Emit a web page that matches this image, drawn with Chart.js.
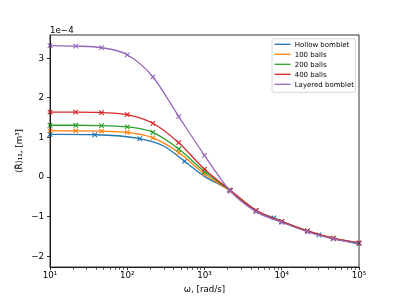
<!DOCTYPE html>
<html>
<head>
<meta charset="utf-8">
<script src="https://cdn.jsdelivr.net/npm/chart.js@4/dist/chart.umd.min.js"></script>
<style>
  html, body { margin: 0; padding: 0; background: #fff; }
  canvas { display: block; }
</style>
</head>
<body>
<canvas id="chart" width="399" height="299"></canvas>
<script>
// omega samples (rad/s), values in units of 1e-4 m^3
var omega = [10, 21.5, 46.4, 100, 215, 464, 1000, 2154, 4642, 10000, 21544, 46416, 100000];
var layered = [3.32, 3.31, 3.27, 3.09, 2.53, 1.53, 0.55, -0.35, -0.87, -1.14, -1.38, -1.56, -1.68];
var balls400 = [1.64, 1.64, 1.63, 1.58, 1.36, 0.87, 0.20, -0.33, -0.84, -1.12, -1.36, -1.54, -1.66];
var balls200 = [1.31, 1.31, 1.30, 1.27, 1.13, 0.71, 0.14, -0.34, -0.84, -1.12, -1.36, -1.55, -1.67];
var balls100 = [1.17, 1.17, 1.16, 1.13, 0.99, 0.62, 0.08, -0.35, -0.85, -1.13, -1.37, -1.55, -1.67];
var omegaHollow = [10, 38, 145, 300, 550, 1000, 2090, 4642, 7940, 15000, 30200, 100000];
var hollow = [1.08, 1.07, 0.97, 0.78, 0.40, 0.02, -0.33, -0.86, -1.03, -1.26, -1.46, -1.69];
var hollowMarked = [1, 1, 1, 0, 1, 0, 1, 0, 1, 0, 1, 0];

var xTicks = [10, 20, 30, 40, 50, 60, 70, 80, 90, 100, 200, 300, 400, 500, 600, 700, 800, 900,
  1000, 2000, 3000, 4000, 5000, 6000, 7000, 8000, 9000, 10000, 20000, 30000, 40000, 50000,
  60000, 70000, 80000, 90000, 100000];
var xLabels = { 10: "10¹", 100: "10²", 1000: "10³", 10000: "10⁴", 100000: "10⁵" };
var yTicks = [-2, -1, 0, 1, 2, 3];

var FONT = "'DejaVu Sans', sans-serif";
Chart.defaults.font.family = FONT;
Chart.defaults.color = "#000";
Chart.defaults.animation = false;

function pts(xs, ys) {
  return xs.map(function (x, i) { return { x: x, y: ys[i] }; });
}

var series = [
  { label: "Hollow bomblet", color: "#1f77b4", data: pts(omegaHollow, hollow), marked: hollowMarked },
  { label: "100 balls", color: "#ff7f0e", data: pts(omega, balls100) },
  { label: "200 balls", color: "#2ca02c", data: pts(omega, balls200) },
  { label: "400 balls", color: "#d62728", data: pts(omega, balls400) },
  { label: "Layered bomblet", color: "#9467bd", data: pts(omega, layered) },
];

var datasets = series.map(function (s, i) {
  var radii = s.data.map(function (p, j) {
    return (s.marked && !s.marked[j]) ? 0 : 3.2;
  });
  return {
    label: s.label,
    data: s.data,
    borderColor: s.color,
    backgroundColor: s.color,
    borderWidth: 1.3,
    pointStyle: "crossRot",
    pointRadius: radii,
    pointBorderWidth: 1.1,
    pointBorderColor: s.color,
    cubicInterpolationMode: "monotone",
    fill: false,
    clip: false,
    order: series.length - i,
  };
});

var decor = {
  id: "decor",
  afterDraw: function (chart) {
    var ctx = chart.ctx;
    var a = chart.chartArea;
    ctx.save();
    // full frame
    ctx.strokeStyle = "#000";
    ctx.lineWidth = 0.8;
    ctx.strokeRect(a.left, a.top, a.right - a.left, a.bottom - a.top);

    // offset text
    ctx.fillStyle = "#000";
    ctx.font = "8.7px " + FONT;
    ctx.textAlign = "left";
    ctx.textBaseline = "alphabetic";
    ctx.fillText("1e\u22124", a.left, a.top - 2.5);

    // axis titles
    ctx.textAlign = "center";
    ctx.textBaseline = "middle";
    ctx.fillText("\u03c9, [rad/s]", (a.left + a.right) / 2, 290);
    ctx.translate(20, (a.top + a.bottom) / 2);
    ctx.rotate(-Math.PI / 2);
    ctx.fillText("\u27e8R\u0303\u27e9\u2081\u2081, [m\u00b3]", 0, 0);
    ctx.setTransform(1, 0, 0, 1, 0, 0);

    // legend
    var bx = 272, by = 38.7, bw = 83.5, bh = 53.6;
    ctx.fillStyle = "rgba(255,255,255,0.8)";
    ctx.strokeStyle = "#cccccc";
    ctx.lineWidth = 0.8;
    ctx.beginPath();
    ctx.roundRect(bx, by, bw, bh, 2);
    ctx.fill();
    ctx.stroke();
    ctx.font = "7px " + FONT;
    ctx.textAlign = "left";
    ctx.textBaseline = "middle";
    series.forEach(function (s, i) {
      var y = 44.3 + i * 10;
      ctx.strokeStyle = s.color;
      ctx.lineWidth = 1.3;
      ctx.beginPath();
      ctx.moveTo(274.5, y);
      ctx.lineTo(290.5, y);
      ctx.stroke();
      ctx.fillStyle = "#000";
      ctx.fillText(s.label, 294.7, y + 0.5);
    });
    ctx.restore();
  },
};

new Chart(document.getElementById("chart"), {
  type: "line",
  data: { datasets: datasets },
  plugins: [decor],
  options: {
    responsive: false,
    layout: { padding: { top: 35, right: 40, left: 0, bottom: 0 } },
    plugins: { legend: { display: false }, tooltip: { enabled: false } },
    scales: {
      x: {
        type: "logarithmic",
        min: 10,
        max: 100000,
        afterBuildTicks: function (scale) {
          scale.ticks = xTicks.map(function (v) { return { value: v }; });
        },
        afterFit: function (scale) { scale.height = 32; },
        ticks: {
          autoSkip: false,
          maxRotation: 0,
          padding: 1,
          font: { size: 8.7 },
          callback: function (v) { return xLabels[v] || ""; },
        },
        grid: {
          drawOnChartArea: false,
          drawTicks: true,
          tickLength: 3,
          tickColor: "#000",
          tickWidth: function (c) { return xLabels[c.tick && c.tick.value] ? 0.8 : 0.6; },
        },
        border: { display: true, color: "#000", width: 0.8 },
      },
      y: {
        type: "linear",
        min: -2.27,
        max: 3.59,
        afterBuildTicks: function (scale) {
          scale.ticks = yTicks.map(function (v) { return { value: v }; });
        },
        afterFit: function (scale) { scale.width = 50; },
        ticks: {
          padding: 3,
          font: { size: 8.7 },
          callback: function (v) { return v < 0 ? "\u2212" + Math.abs(v) : String(v); },
        },
        grid: {
          drawOnChartArea: false,
          drawTicks: true,
          tickLength: 3,
          tickColor: "#000",
          tickWidth: 0.8,
        },
        border: { display: true, color: "#000", width: 0.8 },
      },
    },
  },
});
</script>
</body>
</html>
